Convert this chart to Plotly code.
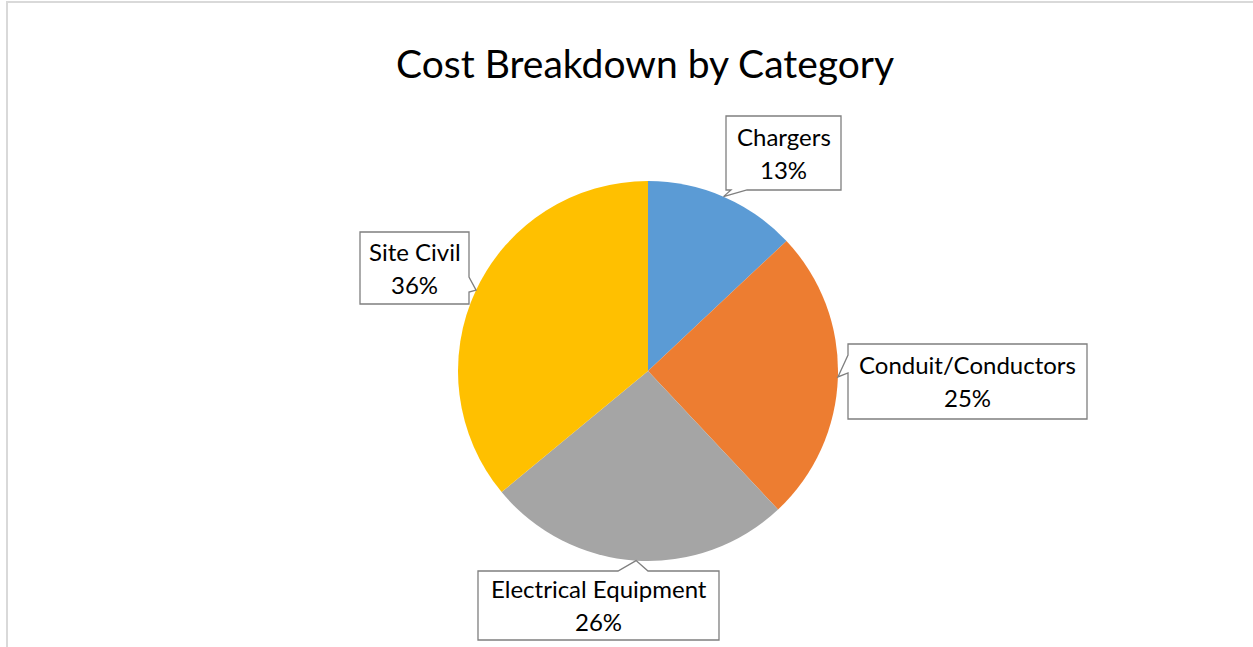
import math
import plotly.graph_objects as go

W, H = 1253, 647

categories = ["Chargers", "Conduit/Conductors", "Electrical Equipment", "Site Civil"]
values = [13, 25, 26, 36]
colors = ["#5B9BD5", "#ED7D31", "#A5A5A5", "#FFC000"]
title_text = "Cost Breakdown by Category"

# layout (pixels)
CX, CY, R = 648, 371, 190
# callout boxes: (x0, y0, x1, y1), side for wedge, base range
boxes = [
    ((726, 116, 841, 190), "bottom", (731, 747)),
    ((848, 344, 1087, 419), "left", (355, 373)),
    ((478, 571, 719, 640), "top", (618, 648)),
    ((360, 232, 469, 304), "right", (277, 292)),
]
FONT = "Lato, Carlito, Calibri, sans-serif"


def px(x):
    return x / W


def py(y):
    return 1 - y / H


fig = go.Figure()
fig.add_trace(go.Pie(
    labels=categories, values=values, sort=False, direction="clockwise", rotation=0,
    marker=dict(colors=colors, line=dict(width=0)), textinfo="none",
    domain=dict(x=[px(CX - R), px(CX + R)], y=[py(CY + R), py(CY - R)]),
    showlegend=False, hoverinfo="label+percent",
))

shapes = [
    dict(type="line", xref="paper", yref="paper", x0=px(6), x1=1, y0=py(2), y1=py(2),
         line=dict(color="#D9D9D9", width=2)),
    dict(type="line", xref="paper", yref="paper", x0=px(7), x1=px(7), y0=py(2), y1=0,
         line=dict(color="#D9D9D9", width=2)),
]
annotations = []
total = sum(values)
cum = 0
for cat, v, (box, side, base) in zip(categories, values, boxes):
    mid = (cum + v / 2) / total * 2 * math.pi
    cum += v
    tx = CX + R * math.sin(mid)
    ty = CY - R * math.cos(mid)
    x0, y0, x1, y1 = box
    a, b = base
    if side == "bottom":
        pts = [(x0, y0), (x1, y0), (x1, y1), (b, y1), (tx, ty), (a, y1), (x0, y1)]
    elif side == "top":
        pts = [(x0, y0), (a, y0), (tx, ty), (b, y0), (x1, y0), (x1, y1), (x0, y1)]
    elif side == "left":
        pts = [(x0, y0), (x1, y0), (x1, y1), (x0, y1), (x0, b), (tx, ty), (x0, a)]
    else:
        pts = [(x0, y0), (x1, y0), (x1, a), (tx, ty), (x1, b), (x1, y1), (x0, y1)]
    path = "M " + " L ".join(f"{px(x):.5f},{py(y):.5f}" for x, y in pts) + " Z"
    shapes.append(dict(type="path", xref="paper", yref="paper", path=path,
                       fillcolor="white", line=dict(color="#7F7F7F", width=1.3)))
    cxm = (x0 + x1) / 2
    cym = (y0 + y1) / 2
    annotations.append(dict(text=cat, x=px(cxm), y=py(cym - 17), xref="paper", yref="paper",
                            showarrow=False, xanchor="center", yanchor="middle",
                            font=dict(family=FONT, size=24, color="#000000")))
    annotations.append(dict(text=f"{round(v / total * 100)}%", x=px(cxm), y=py(cym + 16),
                            xref="paper", yref="paper",
                            showarrow=False, xanchor="center", yanchor="middle",
                            font=dict(family=FONT, size=24, color="#000000")))

annotations.append(dict(text=title_text, x=px(645), y=py(63), xref="paper", yref="paper",
                        showarrow=False, xanchor="center", yanchor="middle",
                        font=dict(family=FONT, size=39, color="#000000")))

fig.update_layout(
    width=W, height=H, margin=dict(l=0, r=0, t=0, b=0),
    paper_bgcolor="white", plot_bgcolor="white",
    shapes=shapes, annotations=annotations,
)
fig.write_html("out.html")
